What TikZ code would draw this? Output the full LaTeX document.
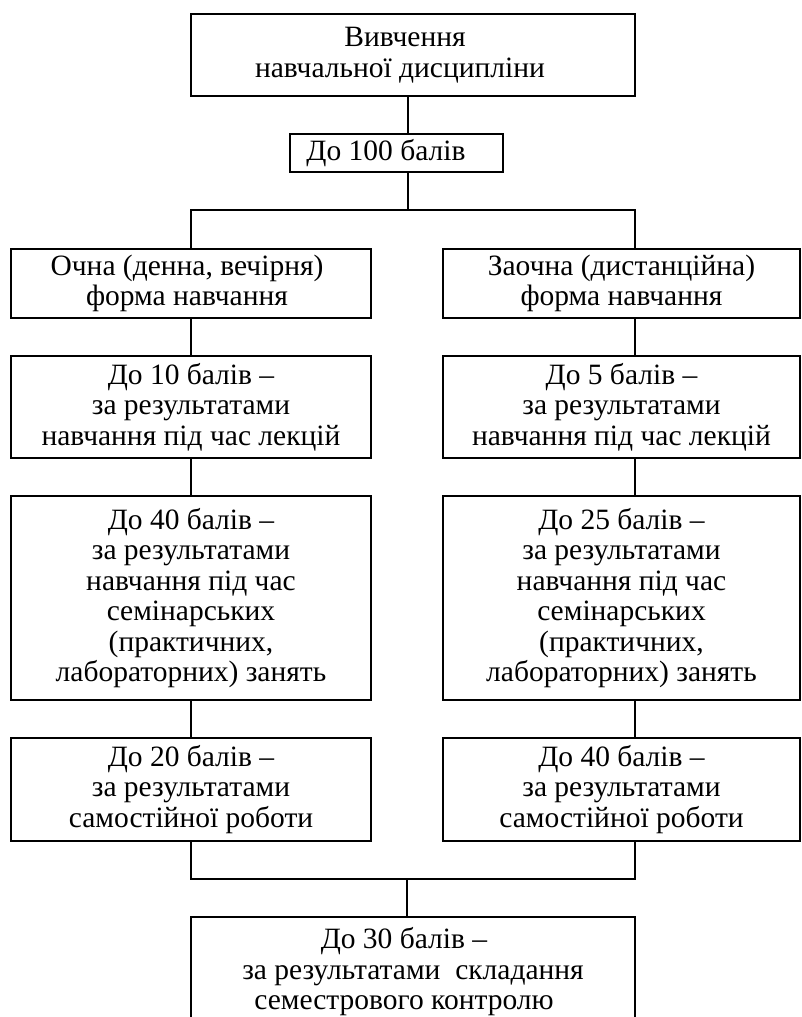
\documentclass[tikz,border=0pt]{standalone}
\usepackage{fontspec}
\setmainfont{Liberation Serif}
\begin{document}
\begin{tikzpicture}[x=1pt,y=-1pt,
  box/.style={draw, line width=1.3pt, align=center, inner sep=0pt,
    font=\fontsize{29.5}{30.5}\selectfont},
  conn/.style={draw, line width=1.3pt}]
\useasboundingbox (0,0) rectangle (802,1017);
\clip (0,0) rectangle (802,1017);
% boxes
\node[box, minimum width=444pt, minimum height=82pt] (top) at (413,55)
  {Вивчення\hspace*{16pt}\\навчальної дисципліни\hspace*{26pt}};
\node[box, minimum width=213pt, minimum height=38pt] (b100) at (396.5,153)
  {До 100 балів\hspace*{21pt}};
\node[box, minimum width=360pt, minimum height=69pt] (L1) at (191,283.5)
  {Очна (денна, вечірня)\hspace*{8pt}\\форма навчання\hspace*{8pt}};
\node[box, minimum width=357pt, minimum height=69pt] (R1) at (621.5,283.5)
  {Заочна (дистанційна)\\форма навчання};
\node[box, minimum width=360pt, minimum height=102pt] (L2) at (191,407)
  {До 10 балів –\\за результатами\\навчання під час лекцій};
\node[box, minimum width=357pt, minimum height=102pt] (R2) at (621.5,407)
  {До 5 балів –\\за результатами\\навчання під час лекцій};
\node[box, minimum width=360pt, minimum height=204pt] (L3) at (191,598)
  {До 40 балів –\\за результатами\\навчання під час\\семінарських\\(практичних,\\лабораторних) занять};
\node[box, minimum width=357pt, minimum height=204pt] (R3) at (621.5,598)
  {До 25 балів –\\за результатами\\навчання під час\\семінарських\\(практичних,\\лабораторних) занять};
\node[box, minimum width=360pt, minimum height=103pt] (L4) at (191,789.5)
  {До 20 балів –\\за результатами\\самостійної роботи};
\node[box, minimum width=357pt, minimum height=103pt] (R4) at (621.5,789.5)
  {До 40 балів –\\за результатами\\самостійної роботи};
\node[box, minimum width=444pt, minimum height=110pt] (bot) at (413,972)
  {До 30 балів –\hspace*{18pt}\\за результатами\ \ складання\hspace*{18pt}\\семестрового контролю\hspace*{18pt}};
% junction coordinates
\coordinate (cx) at (408,0);
\coordinate (hL) at (191,210);
\coordinate (hC) at (408,210);
\coordinate (hR) at (635,210);
\coordinate (bL) at (191,879);
\coordinate (bC) at (407,879);
\coordinate (bR) at (635,879);
% connectors
\draw[conn] (top.south -| cx) -- (b100.north -| cx);
\draw[conn] (b100.south -| cx) -- (hC);
\draw[conn] (L1.north) -- (hL) -- (hR) -- (R1.north -| hR);
\draw[conn] (L1.south) -- (L2.north);
\draw[conn] (L2.south) -- (L3.north);
\draw[conn] (L3.south) -- (L4.north);
\draw[conn] (R1.south -| hR) -- (R2.north -| hR);
\draw[conn] (R2.south -| hR) -- (R3.north -| hR);
\draw[conn] (R3.south -| hR) -- (R4.north -| hR);
\draw[conn] (L4.south) -- (bL) -- (bR) -- (R4.south -| bR);
\draw[conn] (bC) -- (bot.north -| bC);
\end{tikzpicture}
\end{document}
